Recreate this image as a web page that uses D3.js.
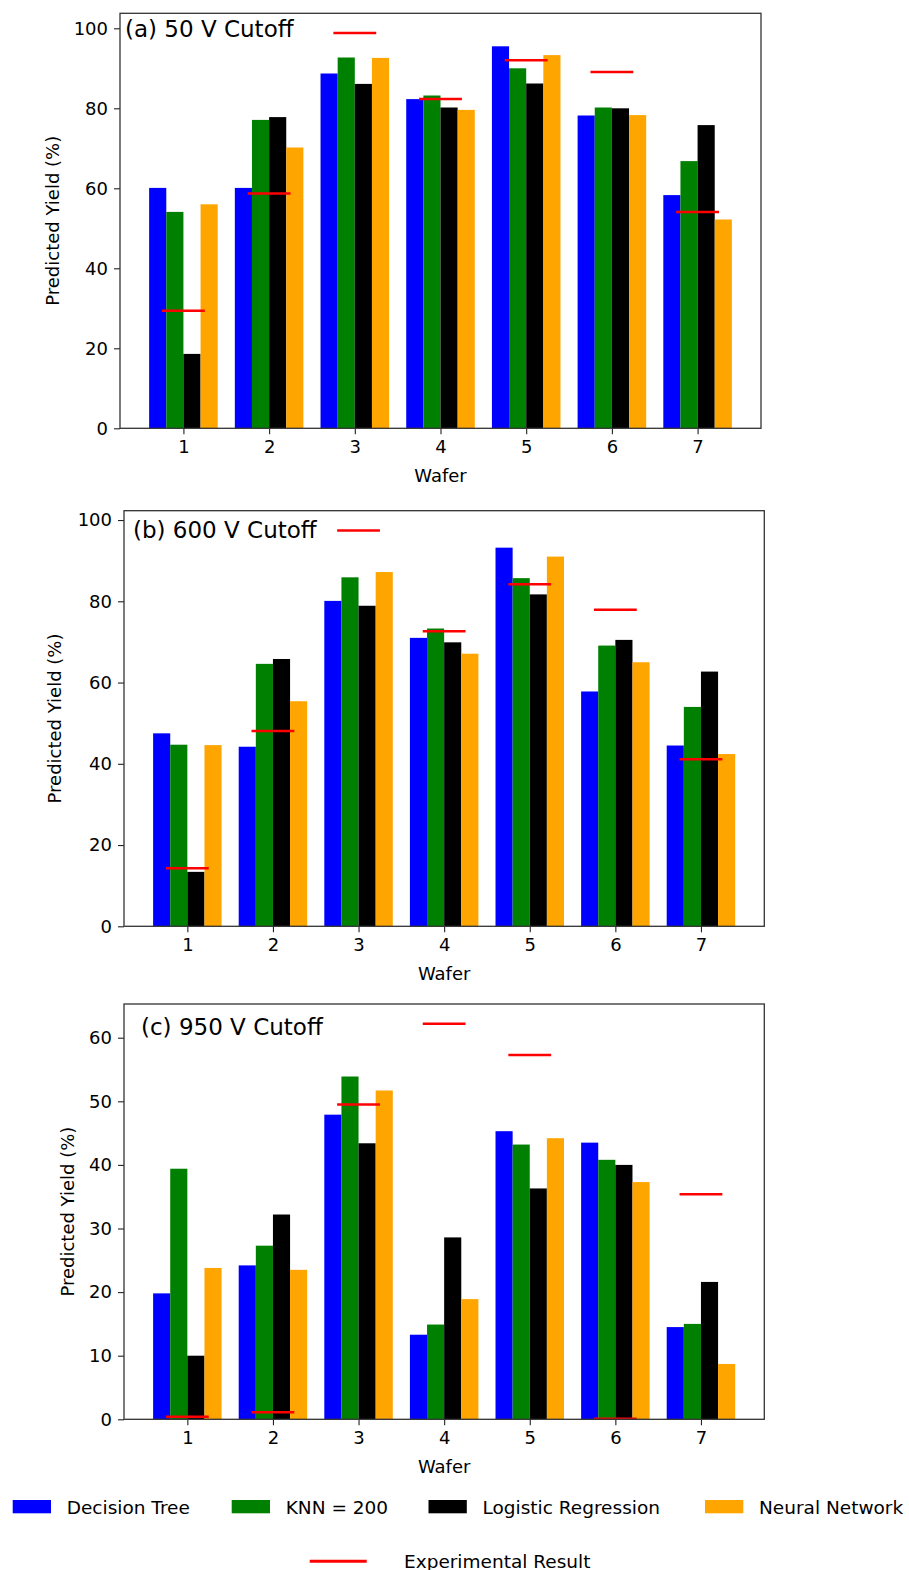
<!DOCTYPE html>
<html>
<head>
<meta charset="utf-8">
<title>Predicted Yield</title>
<script src="https://d3js.org/d3.v7.min.js"></script>
<style>
  body { margin: 0; background: #fff; }
  text { font-family: "DejaVu Sans", sans-serif; fill: #000; }
</style>
</head>
<body>
<script>
// data
const wafers = [1, 2, 3, 4, 5, 6, 7];
const models = ["Decision Tree", "KNN = 200", "Logistic Regression", "Neural Network"];

const dt50  = [60.1, 60.1, 88.7, 82.3, 95.5, 78.2, 58.3];
const knn50 = [54.1, 77.1, 92.7, 83.2, 90.0, 80.2, 66.8];
const lr50  = [18.6, 77.8, 86.1, 80.2, 86.2, 80.0, 75.8];
const nn50  = [56.0, 70.2, 92.6, 79.6, 93.3, 78.3, 52.2];
const exp50 = [29.4, 58.7, 98.8, 82.3, 92.0, 89.1, 54.1];

const dt600  = [47.5, 44.2, 80.1, 71.0, 93.2, 57.8, 44.5];
const knn600 = [44.7, 64.6, 85.9, 73.3, 85.7, 69.1, 54.0];
const lr600  = [13.4, 65.8, 78.9, 69.9, 81.7, 70.5, 62.7];
const nn600  = [44.6, 55.4, 87.2, 67.1, 91.0, 65.0, 42.4];
const exp600 = [14.3, 48.1, 97.4, 72.6, 84.2, 77.9, 41.1];

const dt950  = [19.8, 24.2, 47.9, 13.3, 45.3, 43.5, 14.5];
const knn950 = [39.4, 27.3, 53.9, 14.9, 43.2, 40.8, 15.0];
const lr950  = [10.0, 32.2, 43.4, 28.6, 36.3, 40.0, 21.6];
const nn950  = [23.8, 23.5, 51.7, 18.9, 44.2, 37.3, 8.7];
const exp950 = [0.4, 1.1, 49.5, 62.2, 57.3, 0.1, 35.4];

const ticks100 = [0, 20, 40, 60, 80, 100];
const ticks60  = [0, 10, 20, 30, 40, 50, 60];

const colors = ["#0000ff", "#008000", "#000000", "#ffa500"];
const expColor = "#ff0000";

const W = 909, H = 1570;
const svg = d3.select("body").append("svg")
  .attr("width", W).attr("height", H);

const panels = [
  { title: "(a) 50 V Cutoff", series: [dt50, knn50, lr50, nn50], exp: exp50, ticks: ticks100,
    left: 120, right: 761, top: 13.3, bottom: 428.3, ymax: 103.75, titleX: 125, titleY: 37, ylabX: 53 },
  { title: "(b) 600 V Cutoff", series: [dt600, knn600, lr600, nn600], exp: exp600, ticks: ticks100,
    left: 124, right: 764.3, top: 510.7, bottom: 926.3, ymax: 102.3, titleX: 133, titleY: 538, ylabX: 55 },
  { title: "(c) 950 V Cutoff", series: [dt950, knn950, lr950, nn950], exp: exp950, ticks: ticks60,
    left: 124, right: 764.3, top: 1004, bottom: 1419.3, ymax: 65.3, titleX: 141, titleY: 1035, ylabX: 68 }
];

const barW = 0.2;

panels.forEach(p => {
  const x = d3.scaleLinear().domain([0.26, 7.74]).range([p.left, p.right]);
  const y = d3.scaleLinear().domain([0, p.ymax]).range([p.bottom, p.top]);
  const g = svg.append("g");

  // bars
  p.series.forEach((vals, i) => {
    const off = (i - 1.5) * barW;
    g.selectAll(null).data(wafers).enter().append("rect")
      .attr("x", d => x(d + off - barW / 2))
      .attr("width", x(barW) - x(0))
      .attr("y", (d, j) => y(vals[j]))
      .attr("height", (d, j) => y(0) - y(vals[j]))
      .attr("fill", colors[i]);
  });

  // experimental result lines
  g.selectAll(null).data(wafers).enter().append("line")
    .attr("x1", d => x(d - 0.25))
    .attr("x2", d => x(d + 0.25))
    .attr("y1", (d, j) => y(p.exp[j]))
    .attr("y2", (d, j) => y(p.exp[j]))
    .attr("stroke", expColor)
    .attr("stroke-width", 2.5);

  // axes
  const xAxis = g.append("g")
    .attr("transform", "translate(0," + p.bottom + ")")
    .call(d3.axisBottom(x).tickValues(wafers).tickSize(6).tickPadding(6).tickFormat(d3.format("d")));
  const yAxis = g.append("g")
    .attr("transform", "translate(" + p.left + ",0)")
    .call(d3.axisLeft(y).tickValues(p.ticks).tickSize(6).tickPadding(6).tickFormat(d3.format("d")));
  [xAxis, yAxis].forEach(a => {
    a.select(".domain").remove();
    a.selectAll(".tick line").attr("stroke", "#222").attr("stroke-width", 1.1);
    a.selectAll(".tick text").attr("font-size", 18).attr("font-family", "DejaVu Sans").attr("fill", "#111");
  });

  // frame
  g.append("rect")
    .attr("x", p.left).attr("y", p.top)
    .attr("width", p.right - p.left).attr("height", p.bottom - p.top)
    .attr("fill", "none").attr("stroke", "#333").attr("stroke-width", 1.3);

  g.append("text")
    .attr("x", p.titleX).attr("y", p.titleY)
    .attr("font-size", 23)
    .text(p.title);

  g.append("text")
    .attr("x", (p.left + p.right) / 2).attr("y", p.bottom + 54)
    .attr("text-anchor", "middle")
    .attr("font-size", 18)
    .text("Wafer");

  g.append("text")
    .attr("transform", "translate(" + p.ylabX + "," + ((p.top + p.bottom) / 2) + ") rotate(-90)")
    .attr("text-anchor", "middle")
    .attr("dy", "0.35em")
    .attr("font-size", 18)
    .text("Predicted Yield (%)");
});

// legend
const legX = [12.7, 231.7, 428.5, 705];
const leg = svg.append("g");
models.forEach((m, i) => {
  leg.append("rect")
    .attr("x", legX[i]).attr("y", 1500)
    .attr("width", 38.3).attr("height", 13.3)
    .attr("fill", colors[i]);
  leg.append("text")
    .attr("x", legX[i] + 54).attr("y", 1513.5)
    .attr("font-size", 18.5)
    .text(m);
});
leg.append("line")
  .attr("x1", 309.7).attr("x2", 366.7)
  .attr("y1", 1561.3).attr("y2", 1561.3)
  .attr("stroke", expColor).attr("stroke-width", 3);
leg.append("text")
  .attr("x", 404).attr("y", 1567.5)
  .attr("font-size", 18.5)
  .text("Experimental Result");
</script>
</body>
</html>
